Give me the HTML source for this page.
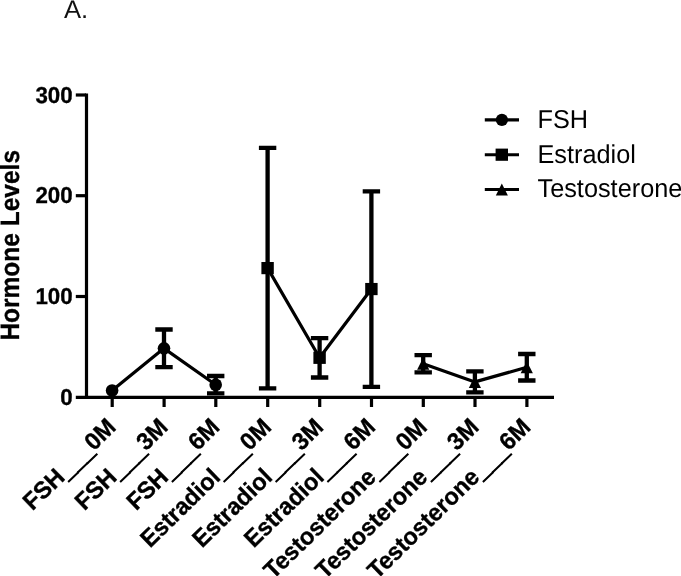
<!DOCTYPE html>
<html><head><meta charset="utf-8"><title>A.</title>
<style>
html,body{margin:0;padding:0;background:#fff;}
svg{display:block;text-rendering:geometricPrecision;font-family:"Liberation Sans",Arial,sans-serif;}
.b{font-weight:bold;}
</style></head><body>
<svg width="681" height="576" viewBox="0 0 681 576">
<rect width="681" height="576" fill="#fff"/>
<text x="64" y="18.4" font-size="25.6" fill="#111">A.</text>
<g stroke="#000" stroke-width="3.2" fill="none" stroke-linecap="butt">
<path d="M86.5 93.4V398.9"/>
<path d="M75.8 397.3H554"/>
<path d="M75.8 95.0H86"/>
<path d="M75.8 195.7H86"/>
<path d="M75.8 296.5H86"/>
<path d="M112.2 397.3V407"/>
<path d="M164.1 397.3V407"/>
<path d="M215.8 397.3V407"/>
<path d="M267.7 397.3V407"/>
<path d="M319.7 397.3V407"/>
<path d="M371.5 397.3V407"/>
<path d="M423.3 397.3V407"/>
<path d="M475.0 397.3V407"/>
<path d="M526.9 397.3V407"/>
</g>
<text class="b" transform="translate(72.6 102.6) scale(1 1.03)" font-size="22.3" text-anchor="end" stroke="#000" stroke-width="0.3">300</text>
<text class="b" transform="translate(72.6 203.3) scale(1 1.03)" font-size="22.3" text-anchor="end" stroke="#000" stroke-width="0.3">200</text>
<text class="b" transform="translate(72.6 304.1) scale(1 1.03)" font-size="22.3" text-anchor="end" stroke="#000" stroke-width="0.3">100</text>
<text class="b" transform="translate(72.6 404.9) scale(1 1.03)" font-size="22.3" text-anchor="end" stroke="#000" stroke-width="0.3">0</text>
<text class="b" font-size="24.5" text-anchor="middle" transform="translate(18.9 245.3) rotate(-90) scale(1 1.08)" stroke="#000" stroke-width="0.3">Hormone Levels</text>
<text class="b" font-size="23.4" text-anchor="end" transform="translate(117.3 428.7) rotate(-44.3) scale(1 1.03)" stroke="#000" stroke-width="0.35">FSH<tspan dy="1.3" stroke="#000" stroke-width="1.1">___</tspan><tspan dy="-1.3">0M</tspan></text>
<text class="b" font-size="23.4" text-anchor="end" transform="translate(169.2 428.7) rotate(-44.3) scale(1 1.03)" stroke="#000" stroke-width="0.35">FSH<tspan dy="1.3" stroke="#000" stroke-width="1.1">___</tspan><tspan dy="-1.3">3M</tspan></text>
<text class="b" font-size="23.4" text-anchor="end" transform="translate(220.9 428.7) rotate(-44.3) scale(1 1.03)" stroke="#000" stroke-width="0.35">FSH<tspan dy="1.3" stroke="#000" stroke-width="1.1">___</tspan><tspan dy="-1.3">6M</tspan></text>
<text class="b" font-size="23.4" text-anchor="end" transform="translate(272.8 428.7) rotate(-44.3) scale(1 1.03)" stroke="#000" stroke-width="0.35">Estradiol<tspan dy="1.3" stroke="#000" stroke-width="1.1">___</tspan><tspan dy="-1.3">0M</tspan></text>
<text class="b" font-size="23.4" text-anchor="end" transform="translate(324.8 428.7) rotate(-44.3) scale(1 1.03)" stroke="#000" stroke-width="0.35">Estradiol<tspan dy="1.3" stroke="#000" stroke-width="1.1">___</tspan><tspan dy="-1.3">3M</tspan></text>
<text class="b" font-size="23.4" text-anchor="end" transform="translate(376.6 428.7) rotate(-44.3) scale(1 1.03)" stroke="#000" stroke-width="0.35">Estradiol<tspan dy="1.3" stroke="#000" stroke-width="1.1">___</tspan><tspan dy="-1.3">6M</tspan></text>
<text class="b" font-size="23.4" text-anchor="end" transform="translate(428.4 428.7) rotate(-44.3) scale(1 1.03)" stroke="#000" stroke-width="0.35">Testosterone<tspan dy="1.3" stroke="#000" stroke-width="1.1">___</tspan><tspan dy="-1.3">0M</tspan></text>
<text class="b" font-size="23.4" text-anchor="end" transform="translate(480.1 428.7) rotate(-44.3) scale(1 1.03)" stroke="#000" stroke-width="0.35">Testosterone<tspan dy="1.3" stroke="#000" stroke-width="1.1">___</tspan><tspan dy="-1.3">3M</tspan></text>
<text class="b" font-size="23.4" text-anchor="end" transform="translate(532.0 428.7) rotate(-44.3) scale(1 1.03)" stroke="#000" stroke-width="0.35">Testosterone<tspan dy="1.3" stroke="#000" stroke-width="1.1">___</tspan><tspan dy="-1.3">6M</tspan></text>
<g stroke="#000" stroke-width="4.3" fill="none">
<path d="M164.0 329.5V367.2M155.3 329.5H172.7M155.3 367.2H172.7"/>
<path d="M215.7 376.0V393.4M207.0 376.0H224.4M207.0 393.4H224.4"/>
<path d="M267.6 147.9V388.3M258.9 147.9H276.3M258.9 388.3H276.3"/>
<path d="M319.6 338.1V377.5M310.9 338.1H328.3M310.9 377.5H328.3"/>
<path d="M371.4 191.3V386.8M362.7 191.3H380.1M362.7 386.8H380.1"/>
<path d="M423.2 355.2V372.3M414.5 355.2H431.9M414.5 372.3H431.9"/>
<path d="M474.9 371.4V392.4M466.2 371.4H483.6M466.2 392.4H483.6"/>
<path d="M526.8 354.0V380.5M518.1 354.0H535.5M518.1 380.5H535.5"/>
</g>
<g stroke="#000" stroke-width="3.2" fill="none" stroke-linejoin="round">
<path d="M112.1 390.5L164.0 348.35L215.7 384.7"/>
<path d="M267.6 268.1L319.6 357.8L371.4 289.05"/>
<path d="M423.2 363.75L474.9 381.9L526.8 367.25"/>
</g>
<g fill="#000">
<circle cx="112.1" cy="390.5" r="6.3"/>
<circle cx="164.0" cy="348.35" r="6.3"/>
<circle cx="215.7" cy="384.7" r="6.3"/>
<rect x="261.4" y="262.00" width="12.4" height="12.2"/>
<rect x="313.4" y="351.70" width="12.4" height="12.2"/>
<rect x="365.2" y="282.95" width="12.4" height="12.2"/>
<path d="M423.2 357.65L429.3 369.85H417.1Z"/>
<path d="M474.9 375.80L481.0 388.00H468.8Z"/>
<path d="M526.8 361.15L532.9 373.35H520.7Z"/>
</g>
<g stroke="#000" stroke-width="3.1" fill="none">
<path d="M484.8 119.9H519"/>
<path d="M484.8 154.7H519"/>
<path d="M484.8 189.5H519"/>
</g>
<g fill="#000">
<circle cx="501.9" cy="119.9" r="6.1"/>
<rect x="495.6" y="148.6" width="12.4" height="12.2"/>
<path d="M501.8 183.45L507.9 195.55H495.8Z"/>
</g>
<text transform="translate(537.5 128.4) scale(1.012 1.035)" font-size="25">FSH</text>
<text transform="translate(537.5 162.6) scale(1.012 1.035)" font-size="25">Estradiol</text>
<text transform="translate(537.5 197.4) scale(1.012 1.035)" font-size="25">Testosterone</text>
</svg>
</body></html>
